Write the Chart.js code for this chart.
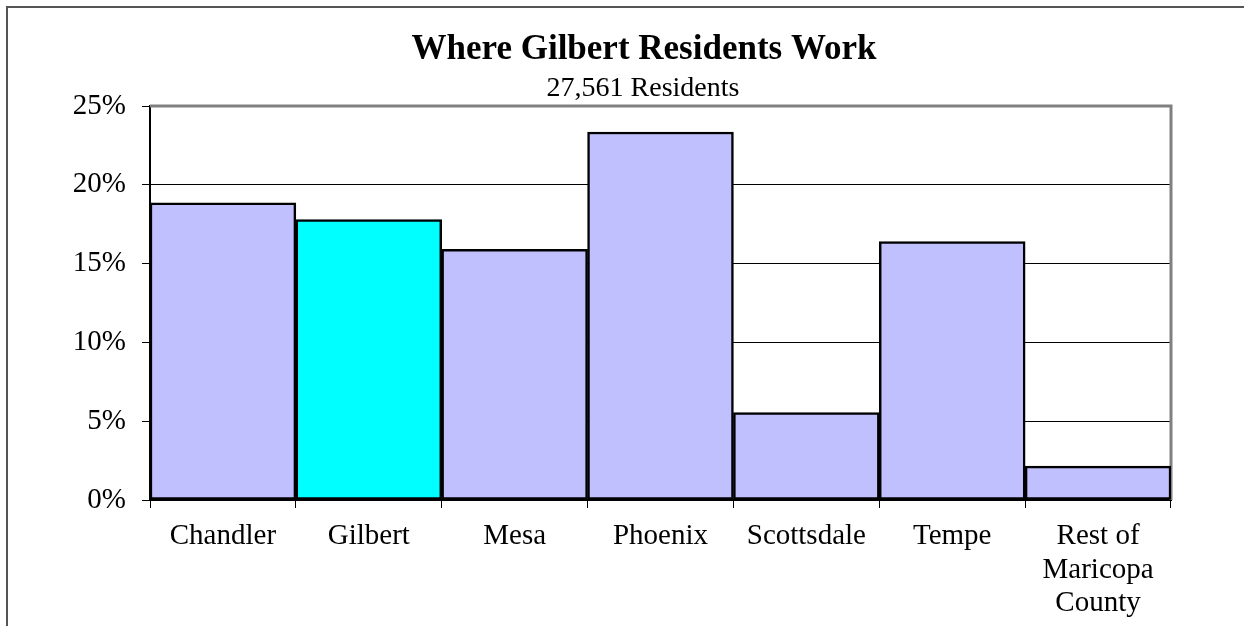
<!DOCTYPE html>
<html>
<head>
<meta charset="utf-8">
<script src="https://cdn.jsdelivr.net/npm/chart.js@4.4.1/dist/chart.umd.min.js"></script>
<style>
  body { margin: 0; background: #fff; }
  canvas { display: block; }
</style>
</head>
<body>
<canvas id="myChart" width="1244" height="626"></canvas>
<script>
const cities = ["Chandler", "Gilbert", "Mesa", "Phoenix", "Scottsdale", "Tempe", ["Rest of", "Maricopa", "County"]];
const shares = [18.85, 17.8, 15.9, 23.35, 5.55, 16.4, 2.15];
const barColors = ["#C0C0FF", "#00FFFF", "#C0C0FF", "#C0C0FF", "#C0C0FF", "#C0C0FF", "#C0C0FF"];
const yTicks = [0, 5, 10, 15, 20, 25];
const titleText = "Where Gilbert Residents Work";
const subtitleText = "27,561 Residents";

const serif = "'Liberation Serif', 'Times New Roman', serif";

// outer frame of the picture (left and top edges only show)
const framePlugin = {
  id: "frame",
  beforeDraw(chart) {
    const ctx = chart.ctx;
    ctx.save();
    ctx.strokeStyle = "#555555";
    ctx.lineWidth = 2;
    ctx.beginPath();
    ctx.moveTo(7, chart.height);
    ctx.lineTo(7, 7);
    ctx.lineTo(chart.width, 7);
    ctx.stroke();
    ctx.restore();
  }
};

// gray top and right edges of the plot area
const plotBorder = {
  id: "plotBorder",
  beforeDatasetsDraw(chart) {
    const a = chart.chartArea, ctx = chart.ctx;
    ctx.save();
    ctx.strokeStyle = "#808080";
    ctx.lineWidth = 3;
    ctx.beginPath();
    ctx.moveTo(a.left, a.top);
    ctx.lineTo(a.right, a.top);
    ctx.lineTo(a.right, a.bottom);
    ctx.stroke();
    ctx.restore();
  }
};

// title block, centred a bit left of the plot like the original
const titles = {
  id: "titles",
  afterDraw(chart) {
    const ctx = chart.ctx;
    ctx.save();
    ctx.fillStyle = "#000";
    ctx.textAlign = "center";
    ctx.textBaseline = "middle";
    ctx.font = "bold 35px " + serif;
    ctx.fillText(titleText, 644, 50);
    ctx.font = "28px " + serif;
    ctx.fillText(subtitleText, 643, 89);
    ctx.restore();
  }
};

new Chart("myChart", {
  type: "bar",
  data: {
    labels: cities,
    datasets: [{
      data: shares,
      backgroundColor: barColors,
      borderColor: "#000000",
      borderWidth: 2.5,
      borderSkipped: false,
      barPercentage: 1,
      categoryPercentage: 1
    }]
  },
  options: {
    responsive: false,
    animation: false,
    layout: { padding: { left: 0, right: 73, top: 106, bottom: 0 } },
    plugins: {
      legend: { display: false },
      tooltip: { enabled: false }
    },
    scales: {
      x: {
        afterFit(scale) { scale.height = 126; },
        grid: {
          offset: true,
          drawOnChartArea: false,
          tickLength: 8,
          tickColor: "#000"
        },
        border: { color: "#000", width: 2 },
        ticks: {
          color: "#000",
          padding: 11,
          maxRotation: 0,
          autoSkip: false,
          font: { family: serif, size: 29, lineHeight: 1.17 }
        }
      },
      y: {
        min: 0,
        max: 25,
        afterFit(scale) { scale.width = 150; },
        afterBuildTicks(scale) { scale.ticks = yTicks.map(v => ({ value: v })); },
        grid: {
          color: ctx => (ctx.tick && ctx.tick.value === 25 ? "rgba(0,0,0,0)" : "#000"),
          lineWidth: 1,
          tickLength: 8,
          tickColor: "#000"
        },
        border: { color: "#000", width: 2 },
        ticks: {
          color: "#000",
          padding: 16,
          font: { family: serif, size: 29 },
          callback: v => v + "%"
        }
      }
    }
  },
  plugins: [framePlugin, plotBorder, titles]
});
</script>
</body>
</html>
